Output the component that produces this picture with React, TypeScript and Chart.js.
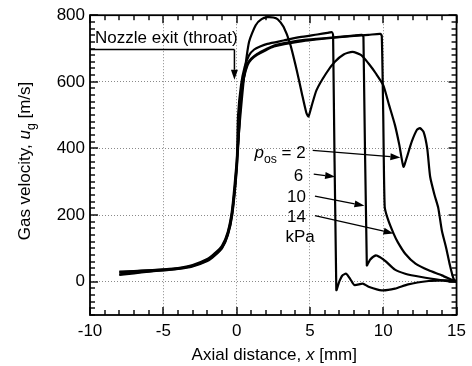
import React, { useEffect, useRef } from "react";
import { Chart, registerables } from "chart.js";

Chart.register(...registerables);

// ---- data ----
const xTickValues = [-10, -5, 0, 5, 10, 15];
const yTickValues = [0, 200, 400, 600, 800];

// p_os = 2 kPa
const p2X = [-8, -7, -6, -5, -4, -3, -2, -1.5, -1, -0.6, -0.3, 0, 0.2, 0.5, 0.85, 1.3, 1.7, 2.1, 2.5, 2.8, 3.2, 3.65, 4.1, 4.45, 4.75, 4.9, 5.1, 5.45, 6.1, 6.7, 7.3, 7.9, 8.5, 9.0, 9.5, 10.0, 10.4, 10.8, 11.1, 11.38, 11.6, 11.95, 12.3, 12.5, 12.75, 13.0, 13.2, 13.5, 13.75, 14.0, 14.3, 14.55, 14.8, 15.0];
const p2Y = [30, 32, 34, 37, 41, 50, 68, 85, 108, 150, 220, 360, 470, 610, 720, 770, 788, 794, 793, 788, 765, 714, 635, 565, 508, 496, 525, 575, 625, 660, 682, 690, 680, 655, 625, 590, 530, 470, 410, 345, 372, 421, 456, 461, 450, 400, 315, 260, 222, 153, 100, 49, 8, 0];

// p_os = 6 kPa
const p6X = [-8, -7, -6, -5, -4, -3, -2, -1.5, -1, -0.6, -0.3, 0, 0.1, 0.3, 0.55, 0.85, 1.2, 1.6, 2.1, 3.2, 4.3, 5.5, 6.2, 6.5, 6.58, 6.8, 7.0, 7.2, 7.47, 7.75, 8.03, 8.6, 9.0, 9.9, 10.8, 11.7, 13.1, 14.0, 14.7, 15.0];
const p6Y = [28, 31, 34, 36, 40, 48, 66, 82, 105, 145, 210, 350, 500, 590, 645, 680, 697, 706, 714, 724, 734, 742, 747, 749, 740, -25, 0, 18, 24, 8, -10, -6, -15, -26, -21, -8, 2, 4, 4, 0];

// p_os = 10 kPa
const p10X = [-8, -7, -6, -5, -4, -3, -2, -1.5, -1, -0.6, -0.3, 0, 0.15, 0.3, 0.5, 0.75, 1.0, 1.4, 2.0, 2.55, 3.65, 4.5, 5.45, 6.8, 8.0, 8.55, 8.65, 8.88, 9.1, 9.5, 9.8, 10.15, 10.8, 11.5, 12.6, 14.0, 14.7, 15.0];
const p10Y = [22, 27, 31, 35, 39, 47, 64, 80, 102, 142, 205, 340, 450, 560, 615, 655, 670, 684, 698, 709, 719, 725, 729, 734, 739, 741, 735, 49, 66, 79, 73, 62, 36, 24, 14, 4, 0, 0];

// p_os = 14 kPa
const p14X = [-8, -7, -6, -5, -4, -3, -2, -1.5, -1, -0.6, -0.3, 0, 0.15, 0.3, 0.5, 0.75, 1.0, 1.4, 2.0, 2.55, 3.65, 4.5, 5.45, 6.8, 8.0, 9.0, 9.8, 9.9, 10.0, 10.1, 10.3, 10.7, 11.0, 11.5, 12.2, 13.1, 14.0, 14.7, 15.0];
const p14Y = [20, 25, 30, 34, 38, 46, 62, 78, 100, 140, 200, 330, 440, 555, 612, 650, 667, 681, 695, 706, 716, 722, 727, 733, 738, 741, 744, 738, 500, 225, 190, 145, 118, 84, 54, 34, 19, 5, 0];

const FONT = '"Liberation Sans", Arial, Helvetica, sans-serif';

type Run = { t: string; italic?: boolean; sub?: boolean };

function runsWidth(ctx: CanvasRenderingContext2D, runs: Run[], size: number) {
  let w = 0;
  for (const r of runs) {
    const s = r.sub ? size * 0.72 : size;
    ctx.font = `${r.italic ? "italic " : ""}${s}px ${FONT}`;
    w += ctx.measureText(r.t).width;
  }
  return w;
}

function drawRuns(ctx: CanvasRenderingContext2D, x: number, y: number, runs: Run[], size: number) {
  let cx = x;
  ctx.textBaseline = "alphabetic";
  ctx.textAlign = "left";
  for (const r of runs) {
    const s = r.sub ? size * 0.72 : size;
    ctx.font = `${r.italic ? "italic " : ""}${s}px ${FONT}`;
    ctx.fillText(r.t, cx, r.sub ? y + size * 0.28 : y);
    cx += ctx.measureText(r.t).width;
  }
}

function arrow(ctx: CanvasRenderingContext2D, x1: number, y1: number, x2: number, y2: number) {
  const ang = Math.atan2(y2 - y1, x2 - x1);
  const hl = 10, hw = 3.5;
  ctx.beginPath();
  ctx.moveTo(x1, y1);
  ctx.lineTo(x2 - hl * Math.cos(ang), y2 - hl * Math.sin(ang));
  ctx.stroke();
  ctx.beginPath();
  ctx.moveTo(x2, y2);
  ctx.lineTo(x2 - hl * Math.cos(ang) + hw * Math.sin(ang), y2 - hl * Math.sin(ang) - hw * Math.cos(ang));
  ctx.lineTo(x2 - hl * Math.cos(ang) - hw * Math.sin(ang), y2 - hl * Math.sin(ang) + hw * Math.cos(ang));
  ctx.closePath();
  ctx.fill();
}

const overlay = {
  id: "overlay",
  afterDraw(chart: any) {
    const ctx: CanvasRenderingContext2D = chart.ctx;
    const xs = chart.scales.x;
    const ys = chart.scales.y;
    const { left, right, top, bottom } = chart.chartArea;
    const X = (v: number) => xs.getPixelForValue(v);
    const Y = (v: number) => ys.getPixelForValue(v);
    ctx.save();
    ctx.setLineDash([]);
    ctx.strokeStyle = "#000";
    ctx.fillStyle = "#000";
    ctx.lineWidth = 1.8;
    ctx.strokeRect(left, top, right - left, bottom - top);

    // inward ticks (minor every 1 mm / 20 m/s, major at labelled values)
    for (let v = -10; v <= 15; v += 1) {
      const px = Math.round(X(v));
      const len = v % 5 === 0 ? 8 : 5;
      ctx.fillRect(px - 0.7, bottom - len, 1.4, len);
      ctx.fillRect(px - 0.7, top, 1.4, len);
    }
    for (let v = -100; v <= 800; v += 20) {
      const py = Math.round(Y(v));
      const len = v % 200 === 0 ? 8 : 5;
      ctx.fillRect(left, py - 0.7, len, 1.4);
      ctx.fillRect(right - len, py - 0.7, len, 1.4);
    }

    // axis titles
    const xTitle: Run[] = [{ t: "Axial distance, " }, { t: "x", italic: true }, { t: " [mm]" }];
    const wx = runsWidth(ctx, xTitle, 17);
    drawRuns(ctx, (left + right) / 2 - wx / 2 + 1, 360, xTitle, 17);

    const yTitle: Run[] = [{ t: "Gas velocity, " }, { t: "u", italic: true }, { t: "g", sub: true }, { t: " [m/s]" }];
    const wy = runsWidth(ctx, yTitle, 17);
    ctx.save();
    ctx.translate(30, 161);
    ctx.rotate(-Math.PI / 2);
    drawRuns(ctx, -wy / 2, 0, yTitle, 17);
    ctx.restore();

    // nozzle exit annotation
    ctx.font = `17px ${FONT}`;
    ctx.textBaseline = "alphabetic";
    ctx.textAlign = "left";
    ctx.fillText("Nozzle exit (throat)", X(-9.66), Y(716));
    ctx.lineWidth = 1.5;
    ctx.beginPath();
    ctx.moveTo(left, Y(697));
    ctx.lineTo(X(-0.15), Y(697));
    ctx.stroke();
    arrow(ctx, X(-0.15), Y(697), X(-0.15), Y(606));

    // pressure labels
    drawRuns(ctx, X(1.22), Y(371), [{ t: "p", italic: true }, { t: "os", sub: true }, { t: " = 2" }], 17);
    drawRuns(ctx, X(3.9), Y(302), [{ t: "6" }], 17);
    drawRuns(ctx, X(3.44), Y(238), [{ t: "10" }], 17);
    drawRuns(ctx, X(3.44), Y(178), [{ t: "14" }], 17);
    drawRuns(ctx, X(3.33), Y(118), [{ t: "kPa" }], 17);

    ctx.lineWidth = 1.3;
    arrow(ctx, X(5.19), Y(394), X(11.17), Y(373));
    arrow(ctx, X(5.26), Y(323), X(6.72), Y(315));
    arrow(ctx, X(5.34), Y(257), X(8.72), Y(228));
    arrow(ctx, X(5.34), Y(198), X(10.7), Y(145));

    ctx.restore();
  },
};

function zip(xs: number[], ys: number[]) {
  return xs.map((x, i) => ({ x, y: ys[i] }));
}

export default function App() {
  const ref = useRef<HTMLCanvasElement | null>(null);
  useEffect(() => {
    document.body.style.margin = "0";
    const canvas = ref.current!;
    const series = [
      { label: "2 kPa", data: zip(p2X, p2Y) },
      { label: "6 kPa", data: zip(p6X, p6Y) },
      { label: "10 kPa", data: zip(p10X, p10Y) },
      { label: "14 kPa", data: zip(p14X, p14Y) },
    ];
    const chart = new Chart(canvas, {
      type: "scatter",
      data: {
        datasets: series.map((s) => ({
          label: s.label,
          data: s.data,
          showLine: true,
          borderColor: "#000",
          backgroundColor: "#000",
          borderWidth: 2.2,
          pointRadius: 0,
          tension: 0.2,
        })),
      },
      options: {
        responsive: false,
        maintainAspectRatio: false,
        animation: false,
        devicePixelRatio: 1,
        layout: { padding: { left: 0, right: 10, top: 13, bottom: 0 } },
        plugins: { legend: { display: false }, tooltip: { enabled: false } },
        scales: {
          x: {
            type: "linear",
            min: -10,
            max: 15,
            afterBuildTicks: (scale: any) => {
              scale.ticks = xTickValues.map((v) => ({ value: v }));
            },
            afterFit: (scale: any) => {
              scale.height = 51;
            },
            ticks: {
              padding: 6,
              color: "#000",
              font: { family: FONT, size: 17 },
              maxRotation: 0,
              autoSkip: false,
            },
            grid: {
              drawTicks: false,
              color: (c: any) =>
                c.tick && (c.tick.value === -10 || c.tick.value === 15) ? "rgba(0,0,0,0)" : "#8a8a8a",
              lineWidth: 1,
            },
            border: { display: false, dash: [1, 2] },
          },
          y: {
            type: "linear",
            min: -100,
            max: 800,
            afterBuildTicks: (scale: any) => {
              scale.ticks = yTickValues.map((v) => ({ value: v }));
            },
            afterFit: (scale: any) => {
              scale.width = 90;
            },
            ticks: {
              padding: 5,
              color: "#000",
              font: { family: FONT, size: 17 },
              autoSkip: false,
            },
            grid: {
              drawTicks: false,
              color: (c: any) => (c.tick && c.tick.value === 800 ? "rgba(0,0,0,0)" : "#8a8a8a"),
              lineWidth: 1,
            },
            border: { display: false, dash: [1, 2] },
          },
        },
      },
      plugins: [overlay],
    });
    return () => chart.destroy();
  }, []);
  return (
    <div style={{ background: "#fff", width: 472, height: 366 }}>
      <canvas ref={ref} width={472} height={366} style={{ display: "block" }} />
    </div>
  );
}
